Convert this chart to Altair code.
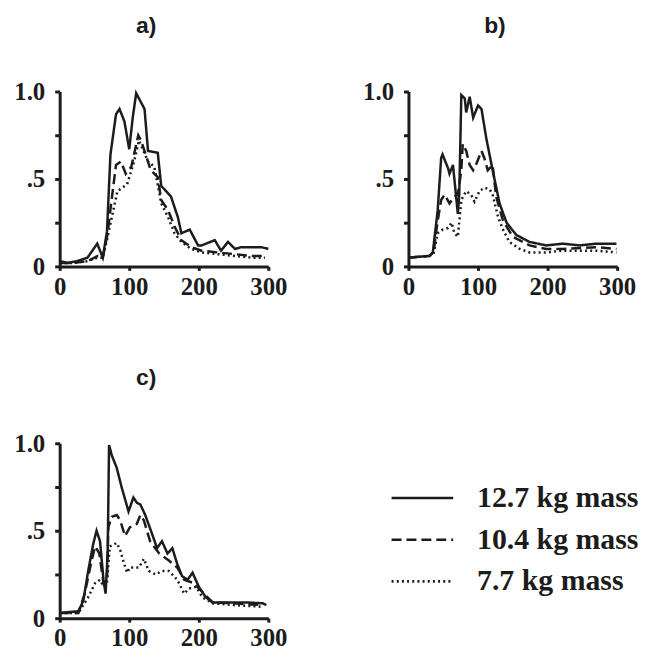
import altair as alt
import pandas as pd

masses = ["12.7 kg mass", "10.4 kg mass", "7.7 kg mass"]
panel_titles = ["a)", "b)", "c)"]

# ---- panel a ----
a_t_127 = [0, 11, 25, 40, 54, 62, 68, 73, 81, 86, 93, 100, 105, 110, 114, 122, 127, 141, 146, 160, 170, 175, 187, 199, 204, 223, 232, 242, 252, 261, 271, 290, 300]
a_v_127 = [0.03, 0.02, 0.03, 0.05, 0.13, 0.05, 0.2, 0.64, 0.87, 0.9, 0.83, 0.67, 0.85, 0.99, 0.96, 0.9, 0.66, 0.65, 0.46, 0.40, 0.28, 0.19, 0.21, 0.12, 0.12, 0.15, 0.09, 0.14, 0.10, 0.11, 0.11, 0.11, 0.10]
a_t_104 = [0, 20, 40, 55, 62, 69, 74, 81, 88, 95, 103, 113, 117, 131, 141, 146, 156, 165, 175, 189, 204, 227, 252, 276, 295]
a_v_104 = [0.02, 0.02, 0.03, 0.06, 0.05, 0.19, 0.36, 0.58, 0.60, 0.53, 0.57, 0.75, 0.72, 0.55, 0.51, 0.38, 0.32, 0.23, 0.15, 0.11, 0.09, 0.08, 0.07, 0.06, 0.06]
a_t_77 = [0, 20, 40, 55, 62, 69, 76, 83, 90, 97, 107, 114, 127, 136, 146, 156, 165, 175, 189, 204, 227, 252, 276, 295]
a_v_77 = [0.02, 0.02, 0.03, 0.05, 0.05, 0.17, 0.30, 0.43, 0.45, 0.47, 0.60, 0.72, 0.60, 0.57, 0.36, 0.28, 0.19, 0.14, 0.10, 0.08, 0.07, 0.06, 0.05, 0.05]

# ---- panel b ----
b_t_127 = [0, 30, 35, 42, 47, 49, 57, 59, 64, 69, 71, 73, 76, 81, 83, 88, 93, 100, 105, 112, 121, 131, 141, 155, 174, 198, 222, 246, 270, 299]
b_v_127 = [0.05, 0.06, 0.08, 0.32, 0.62, 0.64, 0.56, 0.53, 0.58, 0.38, 0.30, 0.41, 0.98, 0.96, 0.88, 0.97, 0.85, 0.92, 0.90, 0.73, 0.55, 0.36, 0.25, 0.18, 0.14, 0.12, 0.13, 0.12, 0.13, 0.13]
b_t_104 = [0, 30, 36, 42, 47, 52, 59, 66, 71, 76, 78, 83, 88, 93, 97, 105, 109, 114, 121, 126, 136, 150, 174, 198, 222, 270, 299]
b_v_104 = [0.05, 0.06, 0.08, 0.26, 0.38, 0.41, 0.36, 0.40, 0.41, 0.55, 0.70, 0.66, 0.58, 0.55, 0.58, 0.66, 0.62, 0.55, 0.58, 0.40, 0.26, 0.17, 0.12, 0.10, 0.10, 0.11, 0.10]
b_t_77 = [0, 30, 36, 42, 49, 57, 62, 66, 71, 76, 83, 90, 95, 102, 109, 117, 121, 129, 136, 145, 160, 174, 198, 222, 270, 299]
b_v_77 = [0.05, 0.06, 0.07, 0.19, 0.21, 0.22, 0.25, 0.19, 0.17, 0.38, 0.43, 0.41, 0.37, 0.43, 0.45, 0.44, 0.41, 0.28, 0.21, 0.14, 0.10, 0.08, 0.08, 0.09, 0.09, 0.08]

# ---- panel c ----
c_t_127 = [0, 27, 34, 41, 48, 53, 58, 63, 66, 69, 71, 75, 82, 89, 99, 106, 111, 116, 123, 133, 140, 147, 155, 162, 169, 176, 184, 191, 200, 210, 220, 244, 268, 292, 297]
c_v_127 = [0.03, 0.04, 0.10, 0.27, 0.42, 0.50, 0.44, 0.22, 0.14, 0.37, 0.99, 0.93, 0.86, 0.75, 0.61, 0.69, 0.66, 0.65, 0.59, 0.48, 0.40, 0.44, 0.37, 0.40, 0.31, 0.24, 0.22, 0.26, 0.18, 0.12, 0.09, 0.09, 0.09, 0.085, 0.075]
c_t_104 = [0, 27, 36, 46, 51, 57, 63, 68, 70, 75, 82, 87, 94, 101, 111, 116, 121, 130, 143, 157, 169, 179, 193, 205, 220, 250, 292]
c_v_104 = [0.03, 0.03, 0.14, 0.33, 0.41, 0.37, 0.20, 0.22, 0.52, 0.58, 0.59, 0.56, 0.47, 0.52, 0.54, 0.59, 0.56, 0.44, 0.37, 0.33, 0.29, 0.22, 0.20, 0.15, 0.09, 0.085, 0.075]
c_t_77 = [0, 27, 41, 51, 58, 63, 68, 72, 77, 82, 87, 92, 97, 101, 114, 121, 128, 138, 147, 157, 169, 179, 186, 196, 205, 220, 250, 292]
c_v_77 = [0.03, 0.03, 0.12, 0.20, 0.22, 0.18, 0.20, 0.41, 0.42, 0.43, 0.39, 0.32, 0.26, 0.29, 0.29, 0.34, 0.27, 0.25, 0.27, 0.27, 0.22, 0.14, 0.17, 0.18, 0.12, 0.085, 0.075, 0.065]

x_ticks = [0, 100, 200, 300]
y_ticks = [0, 0.25, 0.5, 0.75, 1.0]

series = {
    "a)": [(a_t_127, a_v_127), (a_t_104, a_v_104), (a_t_77, a_v_77)],
    "b)": [(b_t_127, b_v_127), (b_t_104, b_v_104), (b_t_77, b_v_77)],
    "c)": [(c_t_127, c_v_127), (c_t_104, c_v_104), (c_t_77, c_v_77)],
}

rows = []
for p, lst in series.items():
    for m, (ts, vs) in zip(masses, lst):
        for t, v in zip(ts, vs):
            rows.append({"panel": p, "mass": m, "t": t, "v": v})
df = pd.DataFrame(rows)

INK = "#1c1c1c"

legend = alt.Legend(
    orient="none", legendX=350, legendY=394, title=None,
    symbolType="M-3.1,0H3.1", symbolSize=400, symbolStrokeWidth=2.6,
    symbolStrokeColor=INK, symbolFillColor="transparent",
    labelFont="Liberation Serif", labelFontWeight="bold", labelFontSize=30,
    labelColor=INK, labelOffset=40, labelLimit=400, rowPadding=12, padding=0,
)


def panel(p):
    return alt.Chart(df[df.panel == p]).mark_line(strokeWidth=2.5, color=INK).encode(
        x=alt.X("t:Q", title=None,
                scale=alt.Scale(domain=[0, 300], nice=False, zero=False),
                axis=alt.Axis(values=x_ticks, format="d", tickSize=4, labelPadding=4,
                              labelFlush=False, labelOverlap=False)),
        y=alt.Y("v:Q", title=None,
                scale=alt.Scale(domain=[0, 1], nice=False),
                axis=alt.Axis(values=y_ticks, tickSize=5, labelPadding=10,
                              labelFlush=False, labelOverlap=False,
                              labelExpr="datum.value == 0 ? '0' : datum.value == 0.5 ? '.5' : datum.value == 1 ? '1.0' : ''")),
        strokeDash=alt.StrokeDash("mass:N",
                                  scale=alt.Scale(domain=masses, range=[[1, 0], [10, 5], [2, 3.2]]),
                                  legend=legend),
    ).properties(
        width=210, height=176,
        title=alt.TitleParams(p, font="Liberation Sans", fontWeight="bold", fontSize=23,
                              color=INK, anchor="middle", dx=-18, offset=24, baseline="alphabetic"),
    )


chart = alt.concat(
    panel("a)"), panel("b)"), panel("c)"),
    columns=2, spacing={"row": 178, "column": 141}, bounds="flush",
).properties(
    padding={"left": 5, "top": 5, "right": 0, "bottom": 0},
    background="white",
).configure_view(stroke=None).configure_axis(
    grid=False, domainColor=INK, domainWidth=3, tickColor=INK, tickWidth=3,
    labelFont="Liberation Serif", labelFontWeight="bold", labelFontSize=25, labelColor=INK,
)

chart.save("out.html", embed_options={"renderer": "svg", "actions": False})
